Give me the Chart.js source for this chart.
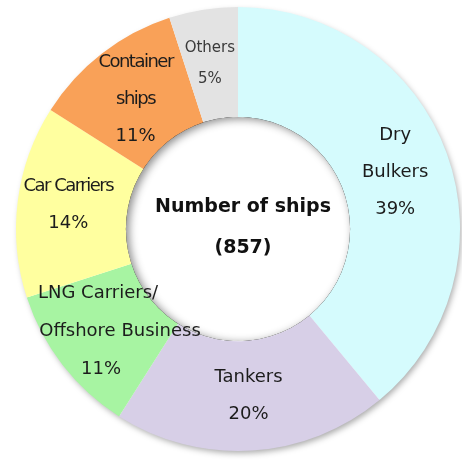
<!DOCTYPE html>
<html>
<head>
<meta charset="utf-8">
<script src="https://cdn.jsdelivr.net/npm/chart.js@4"></script>
<style>
  html, body { margin: 0; padding: 0; background: #fff; }
  #wrap { width: 462px; height: 463px; }
</style>
</head>
<body>
<div id="wrap"><canvas id="fleetChart" width="462" height="463"></canvas></div>
<script>
const categories = ['Dry Bulkers', 'Tankers', 'LNG Carriers/Offshore Business', 'Car Carriers', 'Container ships', 'Others'];
const shares = [39, 20, 11, 14, 11, 5];
const labelLines = [
    ['Dry', 'Bulkers'],
    ['Tankers'],
    ['LNG Carriers/', 'Offshore Business'],
    ['Car Carriers'],
    ['Container', 'ships'],
    ['Others']
];
const centerTitle = 'Number of ships';
const centerTotal = '(857)';

const sliceColors = ['#d5fbfd', '#d7cfe7', '#a7f4a2', '#ffff9f', '#f9a158', '#e3e3e3'];

// per-slice text look (font size, spacing, colour, line nudges)
const labelLook = [
    { size: 18, gap: 37 },
    { size: 18, gap: 37 },
    { size: 18, gap: 38, shift: [-8, 14, -5] },
    { size: 18, gap: 37, spacing: '-1.5px', dx: -4, dy: -3 },
    { size: 18, gap: 37, spacing: '-1.5px', dy: 2 },
    { size: 15, gap: 31, color: '#3a3a3a', dx: -2 }
];

const ringShadow = {
    id: 'ringShadow',
    beforeDatasetsDraw(chart) {
        const arc = chart.getDatasetMeta(0).data[0];
        if (!arc) return;
        const ctx = chart.ctx;
        ctx.save();
        ctx.beginPath();
        ctx.arc(arc.x, arc.y, arc.outerRadius - 1, 0, Math.PI * 2);
        ctx.fillStyle = '#fff';
        ctx.shadowColor = 'rgba(0, 0, 0, 0.35)';
        ctx.shadowBlur = 6;
        ctx.shadowOffsetX = 2;
        ctx.shadowOffsetY = 3;
        ctx.fill();
        ctx.restore();
    },
    afterDatasetsDraw(chart) {
        const arc = chart.getDatasetMeta(0).data[0];
        if (!arc) return;
        const ctx = chart.ctx;
        const r = arc.innerRadius;
        // inset shade inside the hole
        ctx.save();
        ctx.beginPath();
        ctx.arc(arc.x, arc.y, r, 0, Math.PI * 2);
        ctx.clip();
        ctx.beginPath();
        ctx.arc(arc.x, arc.y, r + 30, 0, Math.PI * 2);
        ctx.arc(arc.x, arc.y, r, 0, Math.PI * 2, true);
        ctx.fillStyle = '#000';
        ctx.shadowColor = 'rgba(0, 0, 0, 0.45)';
        ctx.shadowBlur = 8;
        ctx.shadowOffsetX = 3;
        ctx.shadowOffsetY = 2;
        ctx.fill();
        ctx.restore();
    }
};

const sliceLabels = {
    id: 'sliceLabels',
    afterDraw(chart) {
        const ctx = chart.ctx;
        const meta = chart.getDatasetMeta(0);
        ctx.save();
        ctx.textAlign = 'center';
        ctx.textBaseline = 'middle';
        meta.data.forEach((arc, i) => {
            const look = labelLook[i];
            const mid = (arc.startAngle + arc.endAngle) / 2;
            const r = (arc.innerRadius + arc.outerRadius) / 2;
            const x = arc.x + Math.cos(mid) * r + (look.dx || 0);
            const y = arc.y + Math.sin(mid) * r + (look.dy || 0);
            const lines = labelLines[i].concat([shares[i] + '%']);
            const top = y - (lines.length - 1) * look.gap / 2;
            ctx.fillStyle = look.color || '#1c1c1c';
            ctx.font = look.size + 'px "DejaVu Sans", Verdana, sans-serif';
            lines.forEach((line, k) => {
                const isPct = k === lines.length - 1;
                ctx.letterSpacing = (look.spacing && !isPct) ? look.spacing : '0px';
                const sx = look.shift ? look.shift[k] : 0;
                ctx.fillText(line, x + sx, top + k * look.gap);
            });
        });

        // total in the middle
        const c = meta.data[0];
        ctx.letterSpacing = '0px';
        ctx.fillStyle = '#111';
        ctx.font = 'bold 19px "DejaVu Sans", Verdana, sans-serif';
        ctx.fillText(centerTitle, c.x + 5, c.y - 22);
        ctx.fillText(centerTotal, c.x + 5, c.y + 19);
        ctx.restore();
    }
};

new Chart(document.getElementById('fleetChart'), {
    type: 'doughnut',
    data: {
        labels: categories,
        datasets: [{
            data: shares,
            backgroundColor: sliceColors,
            borderWidth: 0
        }]
    },
    options: {
        responsive: false,
        animation: false,
        cutout: '50.5%',
        layout: { padding: { left: 16, right: 2, top: 7, bottom: 12 } },
        plugins: {
            legend: { display: false },
            tooltip: { enabled: false }
        }
    },
    plugins: [ringShadow, sliceLabels]
});
</script>
</body>
</html>
